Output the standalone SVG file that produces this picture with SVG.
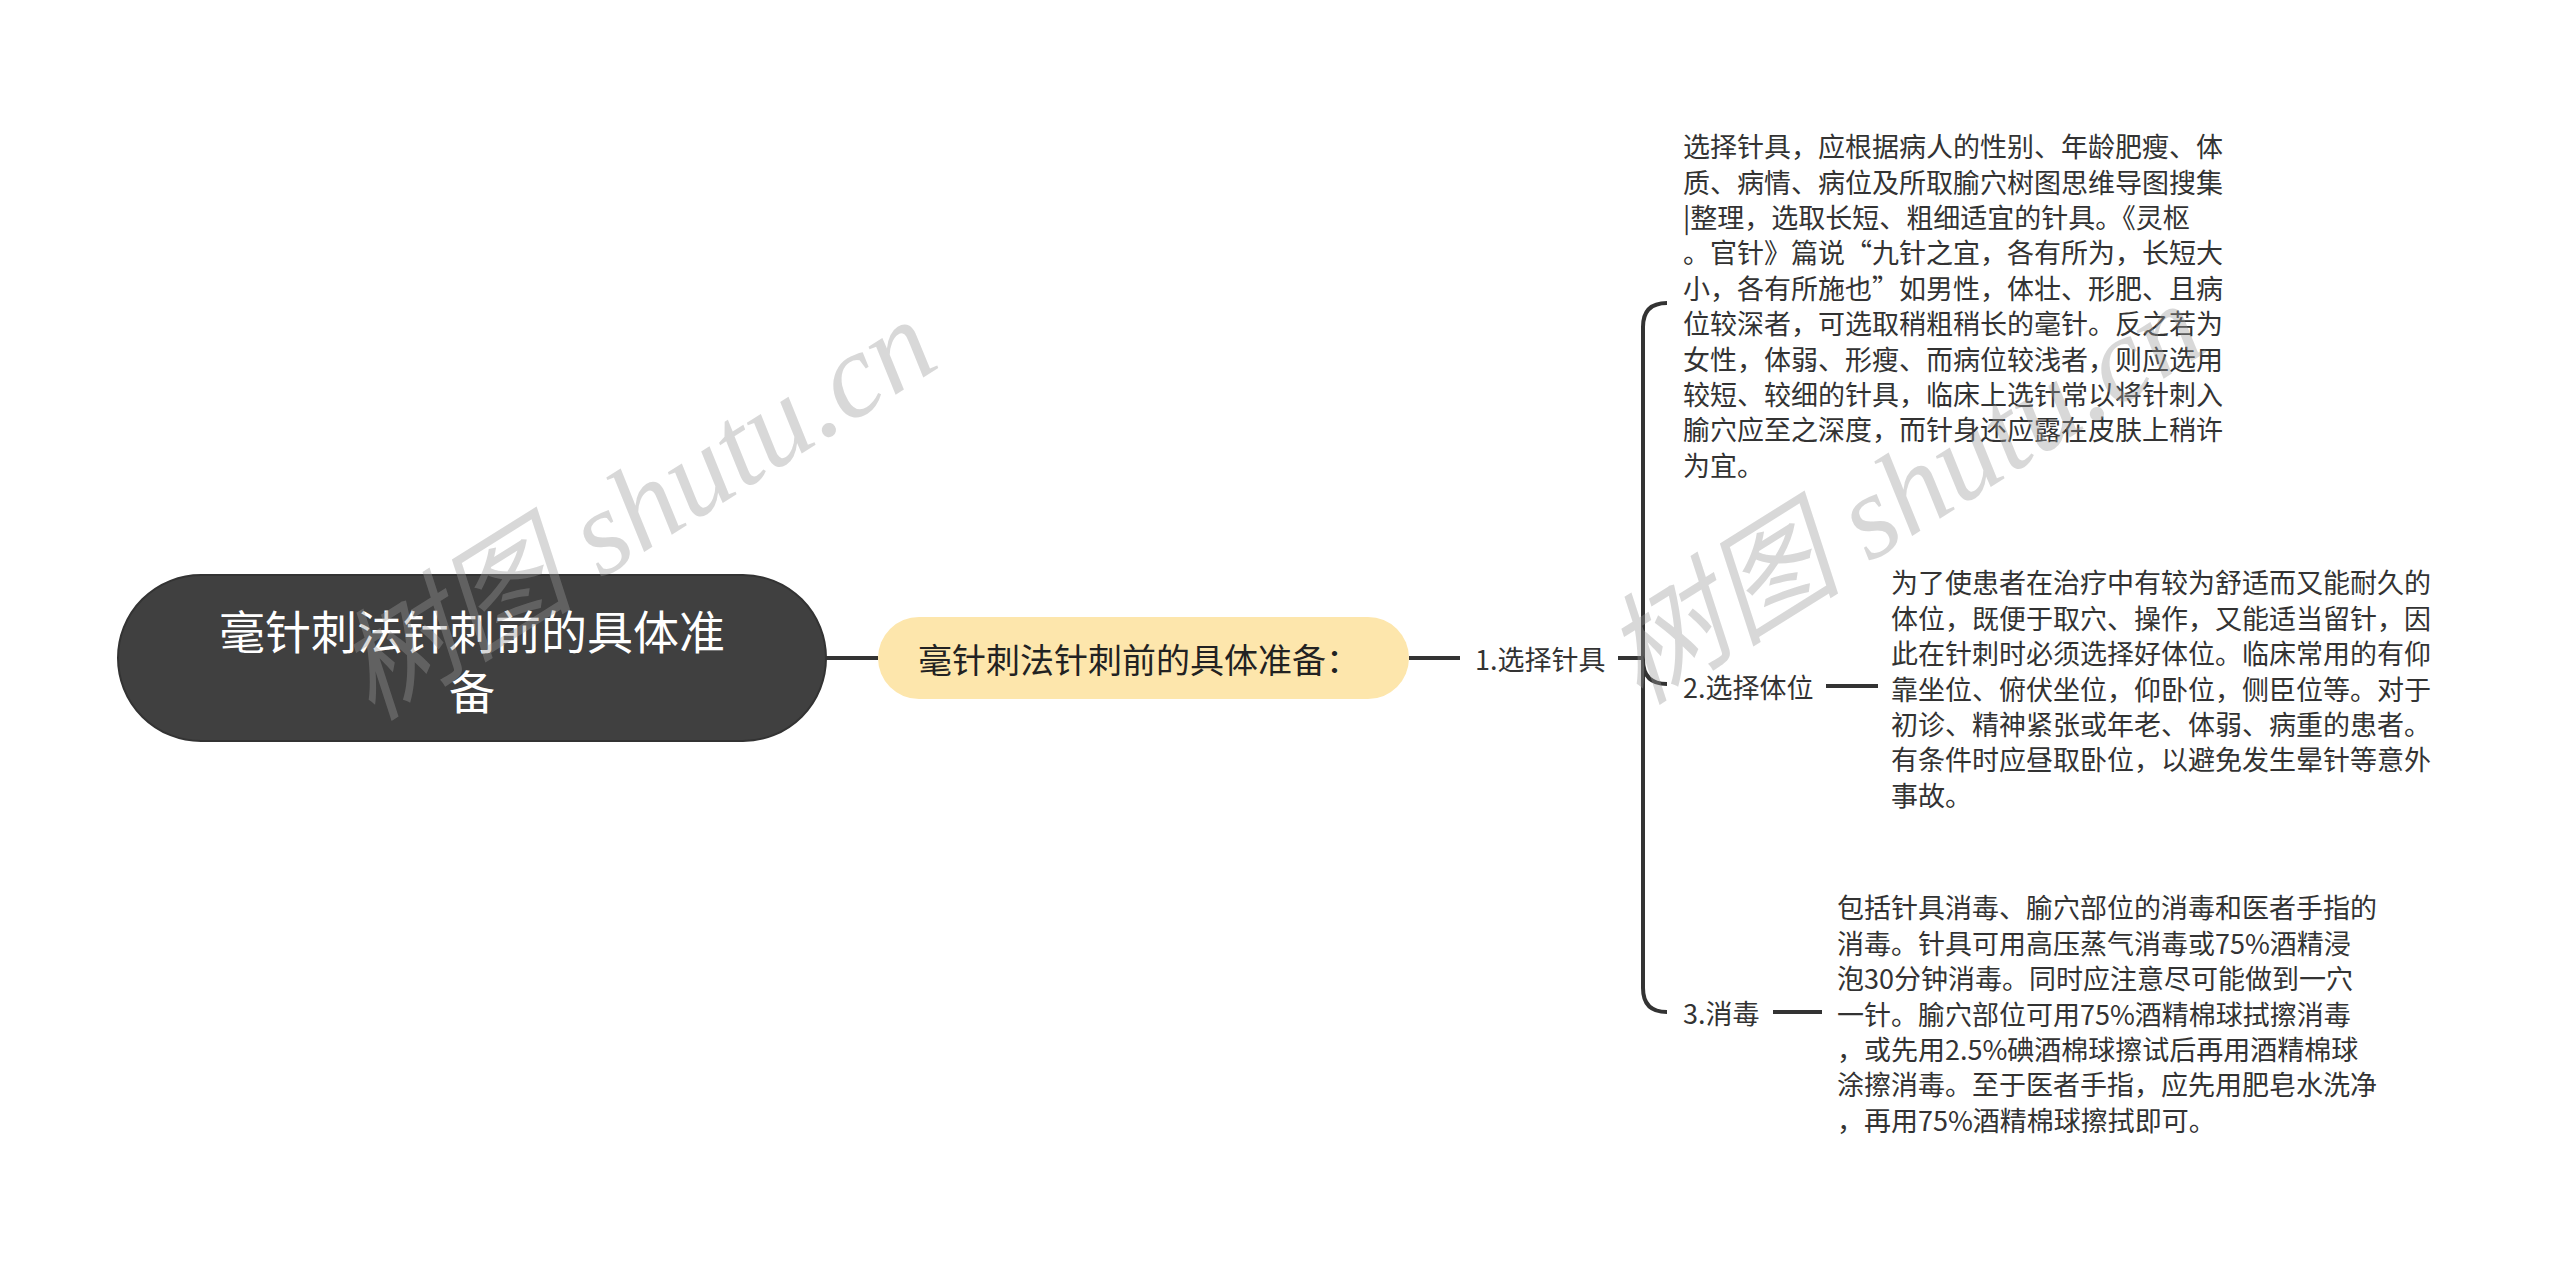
<svg xmlns="http://www.w3.org/2000/svg" width="2560" height="1263" viewBox="0 0 2560 1263">
<style>
.t{font-family:"Noto Sans CJK SC","Noto Sans",sans-serif;fill:#333333;font-size:27px;dominant-baseline:central}
.root{font-family:"Noto Sans CJK SC",sans-serif;fill:#ffffff;font-size:46px;text-anchor:middle;dominant-baseline:central}
.main{font-family:"Noto Sans CJK SC",sans-serif;fill:#222222;font-size:34px;dominant-baseline:central}
.c{fill:none;stroke:#333333;stroke-width:4;stroke-linecap:butt}
.wm{font-family:"Liberation Serif","Noto Sans CJK SC",serif;font-style:italic;font-size:120px;fill:#999999;fill-opacity:0.38}
</style>
<rect width="2560" height="1263" fill="#ffffff"/>
<g id="connectors">
<path class="c" d="M826 658H878"/>
<path class="c" d="M1409 658H1460"/>
<path class="c" d="M1618 658H1643"/>
<path class="c" d="M1667 303Q1643 303 1643 327V988Q1643 1012 1667 1012"/>
<path class="c" d="M1643 660Q1643 684 1667 684"/>
<path class="c" d="M1826 686H1878"/>
<path class="c" d="M1773 1012H1822"/>
</g>
<g id="root">
<rect x="118" y="575" width="708" height="166" rx="83" fill="#404040" stroke="#333333" stroke-width="2"/>
<text class="root" x="472" y="629">毫针刺法针刺前的具体准</text>
<text class="root" x="472" y="689">备</text>
</g>
<g id="main">
<rect x="878" y="617" width="531" height="82" rx="41" fill="#FDE6AC"/>
<text class="main" x="918" y="658">毫针刺法针刺前的具体准备：</text>
</g>
<g id="n1">
<text class="t" x="1475" y="658">1.选择针具</text>
</g>
<g id="n1-text">
<text class="t" x="1683" y="145.7">选择针具，应根据病人的性别、年龄肥瘦、体</text>
<text class="t" x="1683" y="181.1">质、病情、病位及所取腧穴树图思维导图搜集</text>
<text class="t" x="1683" y="216.5">|整理，选取长短、粗细适宜的针具。《灵枢</text>
<text class="t" x="1683" y="251.9">。官针》篇说“九针之宜，各有所为，长短大</text>
<text class="t" x="1683" y="287.3">小，各有所施也”如男性，体壮、形肥、且病</text>
<text class="t" x="1683" y="322.7">位较深者，可选取稍粗稍长的毫针。反之若为</text>
<text class="t" x="1683" y="358.1">女性，体弱、形瘦、而病位较浅者，则应选用</text>
<text class="t" x="1683" y="393.5">较短、较细的针具，临床上选针常以将针刺入</text>
<text class="t" x="1683" y="428.9">腧穴应至之深度，而针身还应露在皮肤上稍许</text>
<text class="t" x="1683" y="464.3">为宜。</text>
</g>
<g id="n2">
<text class="t" x="1683" y="686">2.选择体位</text>
</g>
<g id="n2-text">
<text class="t" x="1891" y="581.8">为了使患者在治疗中有较为舒适而又能耐久的</text>
<text class="t" x="1891" y="617.2">体位，既便于取穴、操作，又能适当留针，因</text>
<text class="t" x="1891" y="652.6">此在针刺时必须选择好体位。临床常用的有仰</text>
<text class="t" x="1891" y="688">靠坐位、俯伏坐位，仰卧位，侧臣位等。对于</text>
<text class="t" x="1891" y="723.4">初诊、精神紧张或年老、体弱、病重的患者。</text>
<text class="t" x="1891" y="758.8">有条件时应昼取卧位，以避免发生晕针等意外</text>
<text class="t" x="1891" y="794.2">事故。</text>
</g>
<g id="n3">
<text class="t" x="1683" y="1012">3.消毒</text>
</g>
<g id="n3-text">
<text class="t" x="1837" y="906.8">包括针具消毒、腧穴部位的消毒和医者手指的</text>
<text class="t" x="1837" y="942.2">消毒。针具可用高压蒸气消毒或75%酒精浸</text>
<text class="t" x="1837" y="977.6">泡30分钟消毒。同时应注意尽可能做到一穴</text>
<text class="t" x="1837" y="1013">一针。腧穴部位可用75%酒精棉球拭擦消毒</text>
<text class="t" x="1837" y="1048.4">，或先用2.5%碘酒棉球擦试后再用酒精棉球</text>
<text class="t" x="1837" y="1083.8">涂擦消毒。至于医者手指，应先用肥皂水洗净</text>
<text class="t" x="1837" y="1119.2">，再用75%酒精棉球擦拭即可。</text>
</g>
<g id="watermarks">
<text class="wm" transform="translate(372 722) rotate(-32)">树图 shutu.cn</text>
<text class="wm" transform="translate(1640 706) rotate(-32)">树图 shutu.cn</text>
</g>
</svg>
